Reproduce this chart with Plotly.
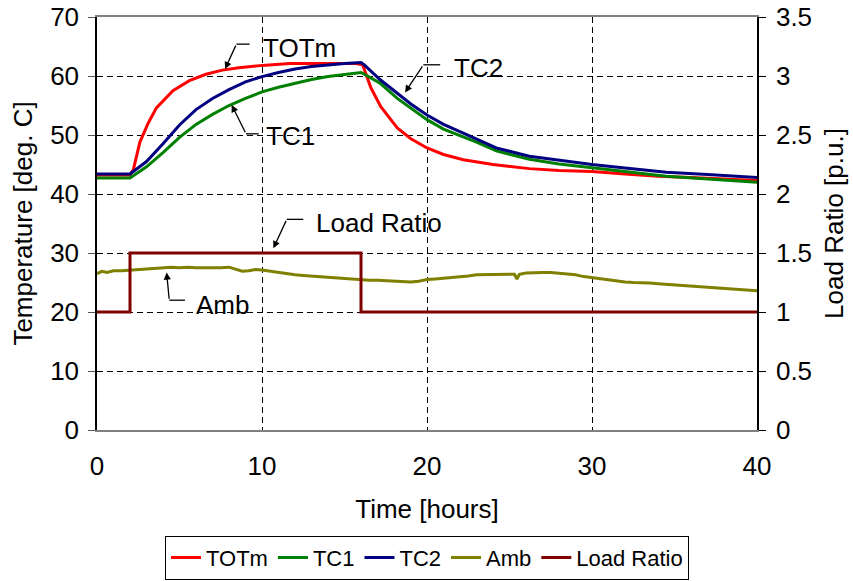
import plotly.graph_objects as go

# ---- measured series -------------------------------------------------------
time_totm = [0, 1, 2, 2.2, 2.6, 3.1, 3.6, 4.6, 5.6, 6.6, 7.6, 8.6, 10, 11.7, 13.7,
             15.7, 16.1, 16.6, 17.2, 18.2, 19, 20, 21, 22.2, 24, 26.2, 28, 30, 32,
             34, 36, 38, 40]
totm = [43.2, 43.2, 43.2, 44.1, 48.8, 52.0, 54.6, 57.5, 59.2, 60.3, 61.0, 61.4, 61.8,
        62.1, 62.1, 62.1, 61.9, 58.0, 54.8, 51.2, 49.4, 47.8, 46.7, 45.8, 45.0, 44.3,
        44.0, 43.8, 43.4, 43.0, 42.8, 42.5, 42.3]

time_tc = [0, 1, 2, 3, 4, 5, 6, 7, 8, 9, 10, 11, 12, 13, 14, 15, 16, 16.2, 17.15,
           18.2, 19, 20, 21, 22.2, 23, 24.2, 26.2, 28, 30, 32, 34.5, 37, 40]
tc1 = [42.7, 42.7, 42.7, 44.6, 47.0, 49.6, 51.8, 53.5, 55.0, 56.2, 57.3, 58.1, 58.8,
       59.4, 59.9, 60.3, 60.6, 60.3, 58.8, 56.2, 54.6, 52.6, 51.0, 49.7, 48.8, 47.3,
       45.9, 45.1, 44.4, 43.8, 43.0, 42.5, 42.0]
tc2 = [43.4, 43.4, 43.4, 45.5, 48.5, 51.7, 54.3, 56.2, 57.7, 59.0, 59.9, 60.6, 61.2,
       61.6, 61.9, 62.1, 62.3, 61.9, 59.4, 57.1, 55.3, 53.4, 51.8, 50.3, 49.3, 47.8,
       46.4, 45.7, 45.0, 44.4, 43.7, 43.3, 42.8]

time_amb = [0, 0.3, 0.6, 1, 1.5, 2, 2.5, 3, 3.5, 4, 4.5, 5, 5.5, 6, 6.5, 7, 7.5, 8,
            8.4, 8.8, 9.2, 9.6, 10, 10.5, 11, 11.5, 12, 12.5, 13, 13.5, 14, 14.5, 15,
            15.5, 16, 16.5, 17, 17.5, 18, 18.5, 19, 19.5, 20, 20.5, 21, 21.5, 22,
            22.5, 23, 23.5, 24, 24.5, 25, 25.3, 25.45, 25.6, 26, 26.5, 27, 27.5, 28,
            28.5, 29, 29.5, 30, 30.5, 31, 31.5, 32, 32.5, 33, 33.5, 34, 34.5, 35,
            35.5, 36, 36.5, 37, 37.5, 38, 38.5, 39, 39.5, 40]
amb = [26.5, 26.9, 26.7, 27.0, 27.0, 27.1, 27.2, 27.3, 27.4, 27.5, 27.6, 27.5, 27.6,
       27.5, 27.5, 27.4, 27.5, 27.6, 27.3, 26.9, 27.0, 27.2, 27.1, 26.9, 26.6, 26.4,
       26.3, 26.2, 26.1, 25.9, 25.9, 25.8, 25.7, 25.6, 25.5, 25.4, 25.4, 25.3, 25.2,
       25.1, 25.1, 25.2, 25.5, 25.6, 25.7, 25.9, 26.0, 26.1, 26.3, 26.3, 26.4, 26.4,
       26.4, 26.4, 25.6, 26.4, 26.6, 26.7, 26.7, 26.7, 26.6, 26.5, 26.3, 26.0, 25.8,
       25.6, 25.4, 25.3, 25.1, 25.0, 25.0, 24.9, 24.8, 24.7, 24.6, 24.5, 24.4, 24.2,
       24.1, 24.0, 23.9, 23.8, 23.7, 23.6, 23.6]

time_load = [0, 2, 2, 16, 16, 40]
load_ratio = [1, 1, 1.5, 1.5, 1, 1]

# callouts: label, text centre, leader points (tip first)
callouts = [
    ("TOTm", (12.25, 64.8), [(7.76, 61.2), (8.45, 65.4), (9.25, 65.4)]),
    ("TC1", (11.7, 49.8), [(8.16, 55.1), (9.03, 50.2), (9.8, 50.2)]),
    ("TC2", (23.1, 61.3), [(18.67, 57.2), (19.78, 61.9), (20.8, 61.9)]),
    ("Load Ratio", (17.1, 35.1), [(10.69, 30.8), (11.5, 35.7), (12.5, 35.7)]),
    ("Amb", (7.6, 21.2), [(4.22, 26.7), (4.38, 22.0), (5.33, 22.0)]),
]

FONT = "Arial, Liberation Sans, sans-serif"

fig = go.Figure()
fig.add_trace(go.Scatter(x=time_totm, y=totm, name="TOTm", mode="lines",
                         line=dict(color="#FF0000", width=3)))
fig.add_trace(go.Scatter(x=time_tc, y=tc1, name="TC1", mode="lines",
                         line=dict(color="#008000", width=3)))
fig.add_trace(go.Scatter(x=time_tc, y=tc2, name="TC2", mode="lines",
                         line=dict(color="#000080", width=3)))
fig.add_trace(go.Scatter(x=time_amb, y=amb, name="Amb", mode="lines",
                         line=dict(color="#808000", width=3)))
fig.add_trace(go.Scatter(x=time_load, y=load_ratio, name="Load Ratio", mode="lines",
                         line=dict(color="#800000", width=3), yaxis="y2"))

annotations = []
shapes = []
for label, (tx, ty), pts in callouts:
    annotations.append(dict(x=tx, y=ty, xref="x", yref="y", text=label,
                            showarrow=False, font=dict(size=26, color="black"),
                            xanchor="center", yanchor="middle"))
    (x0, y0), (x1, y1), (x2, y2) = pts
    annotations.append(dict(x=x0, y=y0, xref="x", yref="y", ax=x1, ay=y1,
                            axref="x", ayref="y", text="", showarrow=True,
                            arrowhead=2, arrowsize=1.1, arrowwidth=1.3,
                            arrowcolor="black", standoff=0, startstandoff=0))
    shapes.append(dict(type="line", xref="x", yref="y", x0=x1, y0=y1, x1=x2, y1=y2,
                       line=dict(color="black", width=1.3)))

fig.update_layout(
    width=853, height=581,
    margin=dict(l=97, r=96, t=17, b=151, autoexpand=False),
    paper_bgcolor="white", plot_bgcolor="white",
    font=dict(family=FONT, size=26, color="black"),
    showlegend=True,
    legend=dict(orientation="h", x=0.5, xanchor="center", xref="paper",
                y=0.04, yanchor="middle", yref="container",
                bordercolor="black", borderwidth=1, font=dict(size=22),
                itemwidth=30, tracegroupgap=0, traceorder="normal"),
    annotations=annotations,
    shapes=shapes,
    xaxis=dict(range=[0, 40], dtick=10, tick0=0, showgrid=True, gridcolor="black",
               gridwidth=1, griddash="6px,4px", showline=True, linecolor="#808080",
               linewidth=2, mirror=True, ticks="outside", ticklen=12,
               tickcolor="rgba(0,0,0,0)", zeroline=False, automargin=False,
               tickfont=dict(size=26),
               title=dict(text="Time [hours]", font=dict(size=26), standoff=20)),
    yaxis=dict(range=[0, 70], dtick=10, tick0=0, showgrid=True, gridcolor="black",
               gridwidth=1, griddash="6px,4px", showline=True, linecolor="black",
               linewidth=1.5, ticks="outside", ticklen=7, tickcolor="#555555",
               ticklabelstandoff=4, zeroline=False, automargin=False,
               tickfont=dict(size=26),
               title=dict(text="Temperature [deg. C]", font=dict(size=26), standoff=10)),
    yaxis2=dict(range=[0, 3.5], dtick=0.5, tick0=0, overlaying="y", side="right",
                showgrid=False, showline=True, linecolor="black", linewidth=1.5,
                ticks="outside", ticklen=7, tickcolor="black", zeroline=False,
                ticklabelstandoff=5, automargin=False, tickfont=dict(size=26),
                title=dict(text="Load Ratio [p.u.]", font=dict(size=26), standoff=14)),
)

fig.write_html("out.html")
